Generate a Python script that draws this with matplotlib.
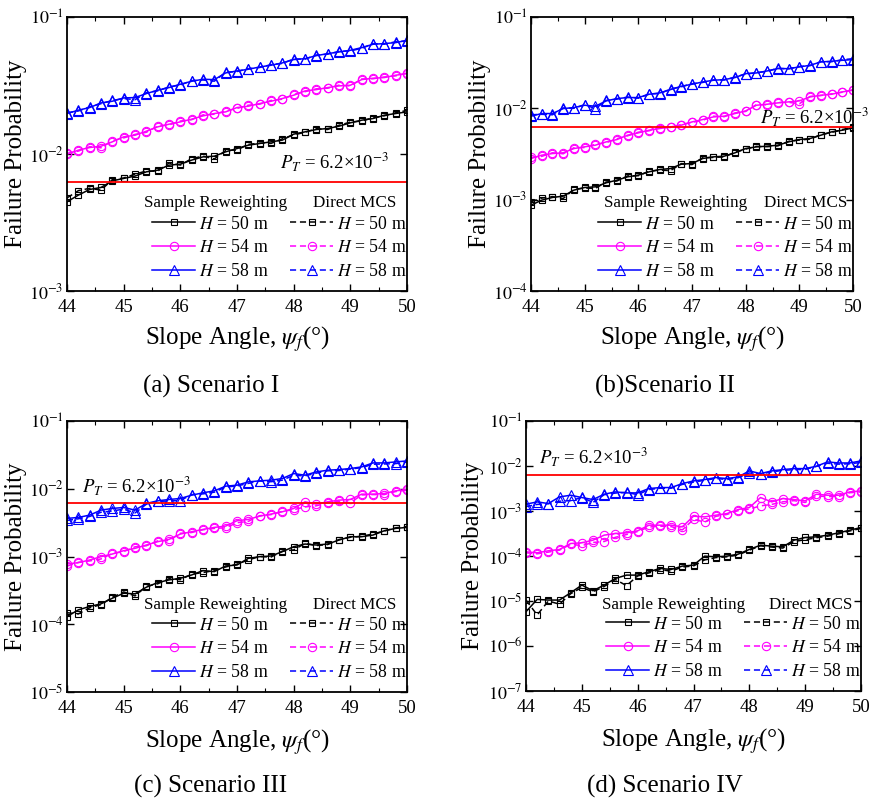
import numpy as np
import matplotlib
matplotlib.use("Agg")
from matplotlib import pyplot as plt
from matplotlib.ticker import FixedLocator, FuncFormatter, MultipleLocator, NullLocator

plt.rcParams["font.family"] = ["Liberation Serif", "DejaVu Serif"]
plt.rcParams["mathtext.fontset"] = "stix"

# slope angle grid (deg)
angle = [44.0, 44.2, 44.4, 44.6, 44.8, 45.0, 45.2, 45.4, 45.6, 45.8, 46.0,
         46.2, 46.4, 46.6, 46.8, 47.0, 47.2, 47.4, 47.6, 47.8, 48.0,
         48.2, 48.4, 48.6, 48.8, 49.0, 49.2, 49.4, 49.6, 49.8, 50.0]

heights = ["50", "54", "58"]
pt_target = 6.2e-3

# --- Scenario I ---
a_sr_50 = [0.00448, 0.00501, 0.00551, 0.00570, 0.00637, 0.00663, 0.00690, 0.00741, 0.00762, 0.00829, 0.00843,
           0.00902, 0.00953, 0.00964, 0.01037, 0.01096, 0.01160, 0.01193, 0.01227, 0.01262, 0.01396,
           0.01451, 0.01509, 0.01535, 0.01596, 0.01688, 0.01765, 0.01815, 0.01919, 0.01974, 0.02030]
a_mcs_50 = [0.00478, 0.00540, 0.00562, 0.00545, 0.00650, 0.00668, 0.00712, 0.00752, 0.00748, 0.00860, 0.00830,
            0.00925, 0.00965, 0.00920, 0.01060, 0.01070, 0.01175, 0.01200, 0.01195, 0.01290, 0.01380,
            0.01440, 0.01530, 0.01510, 0.01620, 0.01710, 0.01740, 0.01840, 0.01900, 0.02000, 0.02080]
a_sr_54 = [0.00997, 0.01067, 0.01115, 0.01140, 0.01227, 0.01334, 0.01371, 0.01467, 0.01578, 0.01650, 0.01716,
           0.01795, 0.01898, 0.01974, 0.02030, 0.02183, 0.02233, 0.02334, 0.02427, 0.02541, 0.02686,
           0.02887, 0.02951, 0.03054, 0.03141, 0.03176, 0.03492, 0.03573, 0.03614, 0.03758, 0.03864]
a_mcs_54 = [0.01010, 0.01050, 0.01130, 0.01110, 0.01250, 0.01310, 0.01390, 0.01440, 0.01600, 0.01630, 0.01740,
            0.01780, 0.01930, 0.01950, 0.02060, 0.02150, 0.02270, 0.02310, 0.02460, 0.02510, 0.02720,
            0.02850, 0.02990, 0.03020, 0.03180, 0.03140, 0.03530, 0.03540, 0.03650, 0.03720, 0.03900]
a_sr_58 = [0.01974, 0.02088, 0.02183, 0.02360, 0.02427, 0.02567, 0.02582, 0.02761, 0.02920, 0.03054, 0.03229,
           0.03395, 0.03512, 0.03492, 0.03907, 0.04038, 0.04153, 0.04318, 0.04444, 0.04623, 0.04889,
           0.04966, 0.05224, 0.05402, 0.05556, 0.05714, 0.05975, 0.06324, 0.06397, 0.06502, 0.06761]
a_mcs_58 = [0.02000, 0.02060, 0.02210, 0.02330, 0.02460, 0.02540, 0.02490, 0.02800, 0.02890, 0.03090, 0.03190,
            0.03430, 0.03470, 0.03400, 0.03950, 0.04000, 0.04200, 0.04280, 0.04490, 0.04580, 0.04940,
            0.04920, 0.05280, 0.05350, 0.05610, 0.05660, 0.05900, 0.06400, 0.06330, 0.06600, 0.06680]

# --- Scenario II ---
b_sr_50 = [0.000871, 0.000988, 0.001057, 0.001093, 0.001272, 0.001359, 0.001382, 0.001529, 0.001635, 0.001778, 0.001855,
           0.002017, 0.002140, 0.002194, 0.002446, 0.002488, 0.002823, 0.002943, 0.002993, 0.003256, 0.003631,
           0.003786, 0.003850, 0.003948, 0.004294, 0.004553, 0.004670, 0.005078, 0.005524, 0.005761, 0.006109]
b_mcs_50 = [0.000950, 0.001040, 0.001080, 0.001030, 0.001300, 0.001340, 0.001330, 0.001560, 0.001600, 0.001820, 0.001830,
            0.002050, 0.002110, 0.002080, 0.002480, 0.002420, 0.002880, 0.002900, 0.002940, 0.003300, 0.003580,
            0.003830, 0.003800, 0.003880, 0.004350, 0.004500, 0.004600, 0.005150, 0.005450, 0.005850, 0.006200]
b_sr_54 = [0.00282, 0.00307, 0.00320, 0.00326, 0.00363, 0.00379, 0.00395, 0.00429, 0.00455, 0.00508, 0.00539,
           0.00576, 0.00601, 0.00626, 0.00654, 0.00710, 0.00754, 0.00806, 0.00820, 0.00877, 0.00937,
           0.01081, 0.01109, 0.01147, 0.01176, 0.01206, 0.01334, 0.01390, 0.01426, 0.01513, 0.01578]
b_mcs_54 = [0.00290, 0.00298, 0.00326, 0.00318, 0.00370, 0.00372, 0.00405, 0.00420, 0.00465, 0.00500, 0.00548,
            0.00568, 0.00612, 0.00618, 0.00665, 0.00700, 0.00740, 0.00820, 0.00810, 0.00890, 0.00925,
            0.01100, 0.01095, 0.01160, 0.01165, 0.01120, 0.01350, 0.01380, 0.01440, 0.01500, 0.01600]
b_sr_58 = [0.00820, 0.00877, 0.00877, 0.00994, 0.01019, 0.01081, 0.01054, 0.01206, 0.01279, 0.01312, 0.01312,
           0.01426, 0.01475, 0.01604, 0.01744, 0.01835, 0.01946, 0.02029, 0.02063, 0.02170, 0.02400,
           0.02440, 0.02566, 0.02722, 0.02722, 0.02839, 0.02960, 0.03220, 0.03274, 0.03357, 0.03414]
b_mcs_58 = [0.00850, 0.00860, 0.00850, 0.01010, 0.01000, 0.01100, 0.00990, 0.01220, 0.01260, 0.01330, 0.01290,
            0.01440, 0.01450, 0.01630, 0.01720, 0.01860, 0.01920, 0.02050, 0.02040, 0.02200, 0.02370,
            0.02460, 0.02540, 0.02750, 0.02700, 0.02870, 0.02930, 0.03250, 0.03240, 0.03400, 0.03500]

# --- Scenario III ---
c_sr_50 = [0.000130, 0.000163, 0.000183, 0.000200, 0.000242, 0.000287, 0.000281, 0.000352, 0.000412, 0.000451, 0.000477,
           0.000534, 0.000619, 0.000598, 0.000725, 0.000749, 0.000940, 0.000994, 0.001017, 0.001178, 0.001396,
           0.001528, 0.001477, 0.001528, 0.001749, 0.001959, 0.001959, 0.002073, 0.002401, 0.002599, 0.002689]
c_mcs_50 = [0.000148, 0.000142, 0.000175, 0.000195, 0.000250, 0.000300, 0.000262, 0.000362, 0.000395, 0.000470, 0.000455,
            0.000548, 0.000580, 0.000620, 0.000700, 0.000770, 0.000890, 0.001000, 0.000980, 0.001200, 0.001250,
            0.001560, 0.001450, 0.001500, 0.001780, 0.001920, 0.001990, 0.002150, 0.002380, 0.002650, 0.002760]
c_sr_54 = [0.000776, 0.000811, 0.000888, 0.000994, 0.001088, 0.001218, 0.001319, 0.001477, 0.001653, 0.001790, 0.002145,
           0.002320, 0.002512, 0.002689, 0.002812, 0.003371, 0.003525, 0.003947, 0.004224, 0.004572, 0.005119,
           0.006418, 0.005930, 0.006418, 0.006789, 0.006946, 0.008324, 0.008324, 0.008514, 0.009318, 0.009750]
c_mcs_54 = [0.000720, 0.000820, 0.000860, 0.000920, 0.001110, 0.001180, 0.001390, 0.001440, 0.001700, 0.001720, 0.002200,
            0.002260, 0.002480, 0.002600, 0.002650, 0.003150, 0.003300, 0.004000, 0.004150, 0.004650, 0.004900,
            0.005400, 0.005600, 0.006200, 0.006500, 0.006200, 0.008100, 0.008200, 0.008200, 0.009100, 0.009500]
c_sr_58 = [0.003648, 0.003773, 0.004083, 0.004838, 0.005119, 0.005295, 0.004838, 0.006064, 0.006639, 0.006946, 0.007185,
           0.008044, 0.008709, 0.009318, 0.010915, 0.011290, 0.012640, 0.013080, 0.013380, 0.014160, 0.016770,
           0.015850, 0.017740, 0.018770, 0.019200, 0.019870, 0.021020, 0.024070, 0.024070, 0.024900, 0.025760]
c_mcs_58 = [0.003400, 0.003600, 0.003900, 0.004500, 0.004700, 0.005000, 0.004400, 0.005900, 0.006500, 0.006600, 0.006700,
            0.008200, 0.008400, 0.008900, 0.010600, 0.011000, 0.012000, 0.013000, 0.012700, 0.013400, 0.015800,
            0.015500, 0.017000, 0.018400, 0.018600, 0.019500, 0.020500, 0.023000, 0.023200, 0.023500, 0.024800]

# --- Scenario IV ---
d_sr_50 = [5.78e-6, 1.085e-5, 1.049e-5, 1.049e-5, 1.526e-5, 2.258e-5, 1.690e-5, 2.258e-5, 3.173e-5, 3.762e-5, 3.762e-5,
           4.461e-5, 5.290e-5, 5.026e-5, 5.960e-5, 6.272e-5, 9.93e-5, 9.60e-5, 9.93e-5, 1.100e-4, 1.396e-4,
           1.741e-4, 1.655e-4, 1.600e-4, 2.250e-4, 2.578e-4, 2.667e-4, 2.904e-4, 3.272e-4, 3.750e-4, 4.296e-4]
d_mcs_50 = [1.05e-5, 4.9e-6, 1.00e-5, 8.5e-6, 1.45e-5, 2.0e-5, 1.60e-5, 2.10e-5, 3.00e-5, 2.20e-5, 3.60e-5,
            4.20e-5, 5.00e-5, 4.60e-5, 5.70e-5, 6.00e-5, 8.20e-5, 9.20e-5, 9.60e-5, 1.05e-4, 1.35e-4,
            1.68e-4, 1.58e-4, 1.50e-4, 2.10e-4, 2.30e-4, 2.55e-4, 2.75e-4, 3.10e-4, 3.60e-4, 4.10e-4]
d_sr_54 = [1.239e-4, 1.178e-4, 1.304e-4, 1.396e-4, 1.897e-4, 1.964e-4, 2.250e-4, 2.904e-4, 3.162e-4, 3.272e-4, 3.625e-4,
           4.840e-4, 4.840e-4, 4.840e-4, 4.445e-4, 7.665e-4, 7.408e-4, 8.067e-4, 8.786e-4, 1.078e-3, 1.194e-3,
           1.990e-3, 1.595e-3, 1.890e-3, 1.797e-3, 1.678e-3, 2.359e-3, 2.242e-3, 2.242e-3, 2.658e-3, 2.797e-3]
d_mcs_54 = [1.18e-4, 1.12e-4, 1.22e-4, 1.35e-4, 1.82e-4, 1.70e-4, 2.00e-4, 2.10e-4, 2.60e-4, 3.00e-4, 3.50e-4,
            4.40e-4, 4.60e-4, 4.50e-4, 3.80e-4, 6.50e-4, 5.70e-4, 7.60e-4, 8.40e-4, 1.02e-3, 1.10e-3,
            1.30e-3, 1.40e-3, 1.60e-3, 1.70e-3, 1.55e-3, 2.15e-3, 2.10e-3, 2.10e-3, 2.55e-3, 2.65e-3]
d_sr_58 = [1.415e-3, 1.595e-3, 1.464e-3, 2.059e-3, 2.242e-3, 1.990e-3, 1.797e-3, 2.359e-3, 2.658e-3, 2.525e-3, 2.525e-3,
           3.152e-3, 3.317e-3, 3.317e-3, 4.069e-3, 4.662e-3, 4.991e-3, 5.529e-3, 5.254e-3, 5.721e-3, 7.771e-3,
           6.783e-3, 7.771e-3, 8.322e-3, 8.755e-3, 8.755e-3, 9.865e-3, 1.231e-2, 1.169e-2, 1.169e-2, 1.296e-2]
d_mcs_58 = [1.25e-3, 1.40e-3, 1.45e-3, 1.65e-3, 1.70e-3, 2.00e-3, 1.55e-3, 2.30e-3, 2.50e-3, 2.60e-3, 2.30e-3,
            3.00e-3, 3.20e-3, 3.20e-3, 3.90e-3, 4.40e-3, 4.80e-3, 5.30e-3, 5.00e-3, 5.50e-3, 7.00e-3,
            6.60e-3, 7.40e-3, 8.00e-3, 8.30e-3, 8.40e-3, 9.80e-3, 1.15e-2, 1.10e-2, 1.12e-2, 1.20e-2]

colors = ["black", "#ff00ff", "#0000ff"]
markers = ["s", "o", "^"]
msizes = [5, 6, 6.5]

W, H = 871, 801
fig = plt.figure(figsize=(W / 100, H / 100), dpi=100)


def px_axes(left, top, right, bottom):
    return fig.add_axes([left / W, 1 - bottom / H, (right - left) / W, (bottom - top) / H])


def draw_panel(ax, sr, mcs, ylo, yhi, pt_xy, ylab_x, xlab_y, legend_y):
    sr_lines, mcs_lines = [], []
    for i in range(3):
        l1, = ax.plot(angle, sr[i], color=colors[i], lw=1.1, marker=markers[i], ms=msizes[i],
                      mfc="none", mec=colors[i], mew=0.8)
        l2, = ax.plot(angle, mcs[i], color=colors[i], lw=1.1, ls=(0, (4, 2.5)), marker=markers[i],
                      ms=msizes[i], mfc="none", mec=colors[i], mew=0.8)
        sr_lines.append(l1)
        mcs_lines.append(l2)
    ax.axhline(pt_target, color="#ff0000", lw=1.3)
    ax.text(pt_xy[0], pt_xy[1], r"$P_T$ = 6.2×10$^{-3}$", fontsize=13.5, va="center", ha="left", clip_on=False)

    ax.set_yscale("log")
    ax.set_xlim(44, 50)
    ax.set_ylim(ylo, yhi)
    ax.xaxis.set_major_locator(MultipleLocator(1))
    ax.xaxis.set_minor_locator(MultipleLocator(0.5))
    decades = np.arange(int(np.log10(ylo)), int(np.log10(yhi)) + 1)
    ax.yaxis.set_major_locator(FixedLocator(10.0 ** decades))
    ax.yaxis.set_minor_locator(NullLocator())
    ax.yaxis.set_major_formatter(FuncFormatter(lambda v, p: r"$10^{%d}$" % round(np.log10(v))))
    ax.tick_params(which="both", direction="in", top=True, right=True, labelsize=13.5)
    ax.tick_params(axis="y", labelsize=13)
    ax.tick_params(which="major", length=5, width=1.0)
    ax.tick_params(which="minor", length=3, width=0.8)
    ax.tick_params(axis="x", pad=6)
    ax.tick_params(axis="y", pad=2.5)
    for s in ax.spines.values():
        s.set_linewidth(1.3)

    ax.set_ylabel("Failure Probability", fontsize=18)
    ax.yaxis.set_label_coords(ylab_x, 0.5)
    ax.set_xlabel(r"Slope Angle, $\psi_f$(°)", fontsize=18)
    ax.xaxis.set_label_coords(0.5, xlab_y)

    labels = [r"$H$ = %s m" % h for h in heights]
    ax.legend(sr_lines + mcs_lines, labels + labels, ncol=2, loc="lower right",
              bbox_to_anchor=(1.0, legend_y), frameon=False, fontsize=12.8,
              handlelength=2.4, handletextpad=0.25, columnspacing=1.2, labelspacing=0.38,
              borderpad=0.0, borderaxespad=0.0, numpoints=1)
    ax.text(0.226, 0.32, "Sample Reweighting", transform=ax.transAxes, fontsize=12.3,
            ha="left", va="center")
    ax.text(0.724, 0.32, "Direct MCS", transform=ax.transAxes, fontsize=12.3,
            ha="left", va="center")


ax_a = px_axes(67, 17, 407, 291)
draw_panel(ax_a, [a_sr_50, a_sr_54, a_sr_58], [a_mcs_50, a_mcs_54, a_mcs_58],
           1e-3, 1e-1, (47.76, 0.0088), -0.118, -0.12, 0.04)

ax_b = px_axes(531, 17, 853, 291)
draw_panel(ax_b, [b_sr_50, b_sr_54, b_sr_58], [b_mcs_50, b_mcs_54, b_mcs_58],
           1e-4, 1e-1, (48.26, 0.0082), -0.125, -0.12, 0.04)

ax_c = px_axes(67, 421, 407, 692)
draw_panel(ax_c, [c_sr_50, c_sr_54, c_sr_58], [c_mcs_50, c_mcs_54, c_mcs_58],
           1e-5, 1e-1, (44.27, 0.0113), -0.118, -0.13, 0.04)

ax_d = px_axes(526, 421, 861, 691)
draw_panel(ax_d, [d_sr_50, d_sr_54, d_sr_58], [d_mcs_50, d_mcs_54, d_mcs_58],
           1e-7, 1e-1, (44.23, 0.0164), -0.125, -0.13, 0.04)

fig.text(211 / W, 1 - 386 / H, "(a) Scenario I", fontsize=18, ha="center", va="center")
fig.text(665 / W, 1 - 386 / H, "(b)Scenario II", fontsize=18, ha="center", va="center")
fig.text(211 / W, 1 - 786 / H, "(c) Scenario III", fontsize=18, ha="center", va="center")
fig.text(665 / W, 1 - 786 / H, "(d) Scenario IV", fontsize=18, ha="center", va="center")

fig.savefig("out.png", dpi=100)
